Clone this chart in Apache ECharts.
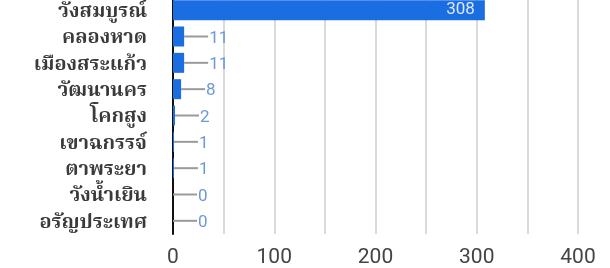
<!DOCTYPE html>
<html>
<head>
<meta charset="utf-8">
<script src="https://cdn.jsdelivr.net/npm/echarts@6/dist/echarts.min.js"></script>
<style>
  html, body { margin: 0; padding: 0; background: #fff; }
  #chart { width: 610px; height: 268px; }
</style>
</head>
<body>
<div id="chart"></div>
<script>
// districts, top to bottom
const districts = ['วังสมบูรณ์', 'คลองหาด', 'เมืองสระแก้ว', 'วัฒนานคร', 'โคกสูง', 'เขาฉกรรจ์', 'ตาพระยา', 'วังน้ำเยิน', 'อรัญประเทศ'];
const counts = [308, 11, 11, 8, 2, 1, 1, 0, 0];
const xTicks = [0, 100, 200, 300, 400];

const thaiFont = '"Noto Serif Thai", "Noto Sans Thai", "Tlwg Typo", Loma, Garuda, serif';

const chart = echarts.init(document.getElementById('chart'));

// big bars get the value inside, small ones get a stem + value outside
const barData = counts.map((v) => {
  if (v > 50) {
    return {
      value: v,
      label: {
        show: true,
        position: 'insideRight',
        distance: 10,
        color: '#dce9fb',
        fontFamily: 'Roboto',
        fontSize: 17,
        padding: [3, 0, 0, 0],
        formatter: '{c}'
      }
    };
  }
  return {
    value: v,
    label: {
      show: true,
      position: 'right',
      distance: 0,
      formatter: '{ln|}{v|{c}}',
      rich: {
        ln: { width: 24, height: 2, backgroundColor: '#9a9a9a', verticalAlign: 'middle' },
        v: { color: '#6b9ad6', fontFamily: 'Roboto', fontSize: 17, padding: [4, 0, 0, 1], verticalAlign: 'middle' }
      }
    }
  };
});

chart.setOption({
  animation: false,
  grid: { left: 173, right: 32, top: -3, bottom: 34, containLabel: false, outerBoundsMode: 'none' },
  xAxis: {
    type: 'value',
    min: 0,
    max: 400,
    interval: 50,
    axisLine: { show: false },
    axisTick: { show: false },
    splitLine: { show: true, lineStyle: { color: '#dadada', width: 2 } },
    axisLabel: {
      margin: 13,
      color: '#444',
      fontFamily: 'Roboto',
      fontSize: 21,
      formatter: (v) => (xTicks.indexOf(v) >= 0 ? String(v) : '')
    }
  },
  yAxis: {
    type: 'category',
    data: districts,
    inverse: true,
    axisLine: { show: true, lineStyle: { color: '#111', width: 2 } },
    axisTick: { show: false },
    axisLabel: {
      margin: 26,
      formatter: (v) => '{t|' + v + '}',
      rich: {
        t: {
          padding: [7, 0, 0, 0],
          color: '#3a3a3a',
          fontFamily: thaiFont,
          fontWeight: 'bold',
          fontSize: 20
        }
      }
    }
  },
  series: [
    {
      type: 'bar',
      data: barData,
      barWidth: 20,
      itemStyle: { color: '#1a6ee2' }
    }
  ]
});
</script>
</body>
</html>
